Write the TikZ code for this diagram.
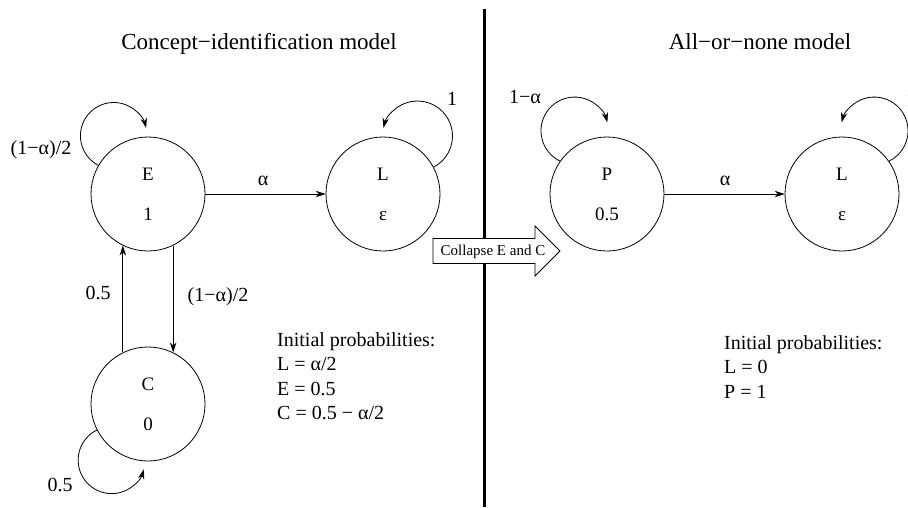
\documentclass[tikz,border=0pt]{standalone}
\usepackage{fontspec}
\setmainfont{Liberation Serif}
\usetikzlibrary{arrows.meta,calc}
\begin{document}
\begin{tikzpicture}[x=1pt,y=-1pt,
  state/.style={circle,draw,line width=0.8pt,minimum size=114pt,inner sep=0pt,
    align=center,font=\fontsize{19}{22}\selectfont},
  lbl/.style={font=\fontsize{20}{24}\selectfont,inner sep=0pt},
  heading/.style={font=\fontsize{23}{27}\selectfont,inner sep=0pt,anchor=base},
  notes/.style={font=\fontsize{20}{24.5}\selectfont,inner sep=0pt,align=left,anchor=base west},
  trans/.style={line width=0.8pt,-{Stealth[length=10pt,width=6.5pt]}},
  ]
\useasboundingbox (0,0) rectangle (908,507);

% headings
\node[heading] (t1) at (259,49) {Concept−identification model};
\node[heading] (t2) at (760,49) {All−or−none model};

% divider between the two models
\draw[line width=3pt] (484,9) -- (484,507);

% concept-identification model
\node[state] (E) at (148,194) {E\\[18pt]1};
\node[state] (L) at (383,194) {L\\[18pt]ε};
\node[state] (C) at (148,404) {C\\[18pt]0};

\draw[trans] (E) -- (L);
\draw[trans] (E.-64) -- (C.64);
\draw[trans] (C.116) -- (E.-116);
% self loops as circular arcs (y axis points down here)
\draw[trans] (E.150) arc[start angle=117.6, end angle=346.4, radius=33.3];
\draw[trans] (L.28) arc[start angle=62.4, end angle=-166.4, radius=35];
\draw[trans] (C.207) arc[start angle=243.8, end angle=16, radius=33.5];

\node[lbl] (lEE) at (41,150) {(1−α)/2};
\node[lbl] (lLL) at (452,99) {1};
\node[lbl] (lEL) at (263,181) {α};
\node[lbl] (lEC) at (218,297) {(1−α)/2};
\node[lbl] (lCE) at (98,293) {0.5};
\node[lbl] (lCC) at (60,485) {0.5};

% the base anchor of a multi-line node sits on its last line
\node[notes] (init1) at (277,419.5) {Initial probabilities:\\L = α/2\\E = 0.5\\C = 0.5 − α/2};

% all-or-none model
\node[state] (P) at (607,194) {P\\[18pt]0.5};
\node[state] (L2) at (842,194) {L\\[18pt]ε};

\draw[trans] (P) -- (L2);
\draw[trans] (P.145) arc[start angle=115.9, end angle=345.6, radius=33.7];
\draw[trans] (L2.35) arc[start angle=64.1, end angle=-165.6, radius=33.7];

\node[lbl] (lPP) at (525,97) {1−α};
\node[lbl] (lPL) at (725,181) {α};
\node[lbl] (lL2) at (911,100) {1};

\node[notes] (init2) at (724,398) {Initial probabilities:\\L = 0\\P = 1};

% collapse arrow over the divider
\draw[line width=0.8pt,fill=white] (433,238.5) -- (535,238.5) -- (535,226) -- (560,251)
  -- (535,276) -- (535,263.5) -- (433,263.5) -- cycle;
\node[font=\fontsize{15}{18}\selectfont,inner sep=0pt] (collapse) at (493,252) {Collapse E and C};
\end{tikzpicture}
\end{document}
